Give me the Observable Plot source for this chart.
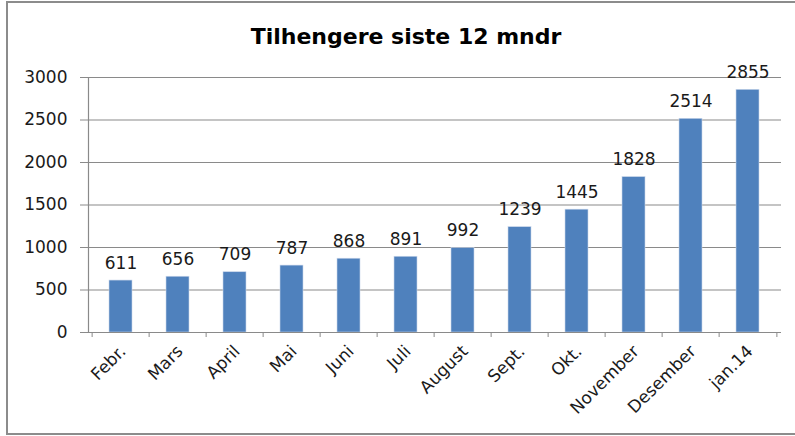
<!DOCTYPE html>
<html>
<head>
<meta charset="utf-8">
<script src="https://cdn.jsdelivr.net/npm/d3@7"></script>
<script src="https://cdn.jsdelivr.net/npm/@observablehq/plot@0.6"></script>
<style>
  html, body { margin: 0; padding: 0; background: #fff; }
  #wrap { position: relative; width: 795px; height: 436px; overflow: hidden; }
  #border { position: absolute; left: 6px; top: 1px; width: 800px; height: 434px;
            border: 2px solid #8c8c8c; box-sizing: border-box; pointer-events: none; }
  svg { display: block; }
</style>
</head>
<body>
<div id="wrap"><div id="border"></div></div>
<script>
const title = "Tilhengere siste 12 mndr";
const months = ["Febr.", "Mars", "April", "Mai", "Juni", "Juli", "August", "Sept.", "Okt.", "November", "Desember", "jan.14"];
const values = [611, 656, 709, 787, 868, 891, 992, 1239, 1445, 1828, 2514, 2855];
const yTicks = [0, 500, 1000, 1500, 2000, 2500, 3000];

const data = months.map((m, i) => ({month: m, value: values[i]}));
const font = "'DejaVu Sans', 'Open Sans', sans-serif";
const step = (781 - 88) / months.length;

const chart = Plot.plot({
  width: 795,
  height: 436,
  marginLeft: 88,
  marginRight: 14,
  marginTop: 77,
  marginBottom: 104,
  style: {fontFamily: font, fontSize: "17px", color: "#1a1a1a", background: "transparent"},
  x: {domain: months, paddingInner: 0.59, paddingOuter: 0.295, label: null},
  y: {domain: [0, 3000], label: null},
  marks: [
    Plot.ruleY(yTicks.slice(1), {stroke: "#8a8a8a", strokeWidth: 1.2}),
    Plot.axisY({ticks: yTicks, tickFormat: "d", tickSize: 8, tickPadding: 13, stroke: "#8a8a8a", fontSize: 17, label: null}),
    Plot.frame({anchor: "left", stroke: "#8a8a8a", strokeWidth: 1.2}),
    Plot.barY(data, {x: "month", y: "value", fill: "#4F81BD", stroke: "#c9d6ea", strokeWidth: 0.6}),
    Plot.ruleY([0], {stroke: "#8a8a8a", strokeWidth: 1.2}),
    Plot.axisX({tickSize: 5, tickFormat: () => "", dx: -step / 2, stroke: "#8a8a8a", label: null}),
    Plot.axisX({ticks: [months[months.length - 1]], tickSize: 5, tickFormat: () => "", dx: step / 2, stroke: "#8a8a8a", label: null}),
    Plot.axisX({tickSize: 0, tickPadding: 16, tickRotate: -45, fontSize: 17, dx: 2, label: null}),
    Plot.text(data, {x: "month", y: "value", text: d => String(d.value), lineAnchor: "bottom", dy: -12, fontSize: 17, fill: "#1a1a1a"}),
    Plot.text([title], {frameAnchor: "top", dy: -34, lineAnchor: "bottom", text: d => d, fontSize: 22, fontWeight: "bold", fill: "#000", dx: -29})
  ]
});
document.getElementById("wrap").prepend(chart);
</script>
</body>
</html>
